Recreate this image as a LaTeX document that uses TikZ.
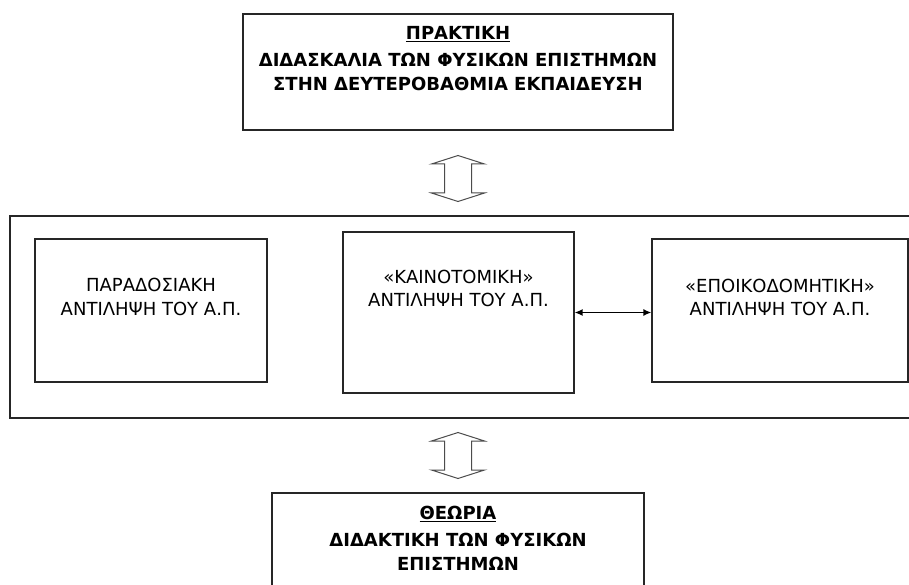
\documentclass[tikz,border=0pt]{standalone}
\usepackage{fontspec}
\setmainfont{DejaVu Sans}
\usetikzlibrary{arrows.meta}

\tikzset{
  box/.style={draw=black!85,line width=1.2pt,fill=white,inner sep=0pt},
  boxtext/.style={anchor=north,align=center,inner sep=0pt,
    font=\fontsize{18}{23.5}\selectfont},
  titletext/.style={boxtext,font=\fontsize{18}{24}\selectfont\bfseries},
  blockarr/.style={draw=black!70,line width=1pt,fill=white,line join=miter}
}

\newcommand{\updownblock}[1]{%
  \draw[blockarr] (#1) ++(0,-23) -- ++(26.5,8.5) -- ++(-13,0) -- ++(0,29)
    -- ++(13,0) -- ++(-26.5,8.5) -- ++(-26.5,-8.5) -- ++(13,0) -- ++(0,-29)
    -- ++(-13,0) -- cycle;}

\begin{document}
\begin{tikzpicture}[x=1pt,y=-1pt]
  \useasboundingbox (0,0) rectangle (909,585);
  \path[clip] (0,0) rectangle (909,585);

  % practice
  \node[box,minimum width=430pt,minimum height=116pt] (practice) at (458,72) {};
  \node[titletext] (practicetext) at (458,26)
    {\underline{ΠΡΑΚΤΙΚΗ}\\[3pt]ΔΙΔΑΣΚΑΛΙΑ ΤΩΝ ΦΥΣΙΚΩΝ ΕΠΙΣΤΗΜΩΝ\\ΣΤΗΝ ΔΕΥΤΕΡΟΒΑΘΜΙΑ ΕΚΠΑΙΔΕΥΣΗ};

  % the three views
  \node[box,minimum width=920pt,minimum height=202pt] (frame) at (470,317) {};
  \node[box,minimum width=232pt,minimum height=143pt] (trad) at (151,310.5) {};
  \node[box,minimum width=231pt,minimum height=161pt] (innov) at (458.5,312.5) {};
  \node[box,minimum width=256pt,minimum height=143pt] (constr) at (780,310.5) {};
  \node[boxtext] (tradtext) at (151,278) {ΠΑΡΑΔΟΣΙΑΚΗ\\ΑΝΤΙΛΗΨΗ ΤΟΥ Α.Π.};
  \node[boxtext] (innovtext) at (458.5,269.5) {«ΚΑΙΝΟΤΟΜΙΚΗ»\\ΑΝΤΙΛΗΨΗ ΤΟΥ Α.Π.};
  \node[boxtext] (constrtext) at (780,278.5) {«ΕΠΟΙΚΟΔΟΜΗΤΙΚΗ»\\ΑΝΤΙΛΗΨΗ ΤΟΥ Α.Π.};
  \draw[{Latex[length=8pt,width=7pt]}-{Latex[length=8pt,width=7pt]},line width=1.5pt]
    (innov.east) -- (innov.east -| constr.west);

  % theory
  \node[box,minimum width=372pt,minimum height=127pt] (theory) at (458,556.5) {};
  \node[titletext] (theorytext) at (458,505.5)
    {\underline{ΘΕΩΡΙΑ}\\[3pt]ΔΙΔΑΚΤΙΚΗ ΤΩΝ ΦΥΣΙΚΩΝ\\ΕΠΙΣΤΗΜΩΝ};

  \coordinate (toparr) at (458,178.5);
  \coordinate (botarr) at (458,455.5);
  \updownblock{toparr}
  \updownblock{botarr}
\end{tikzpicture}
\end{document}
